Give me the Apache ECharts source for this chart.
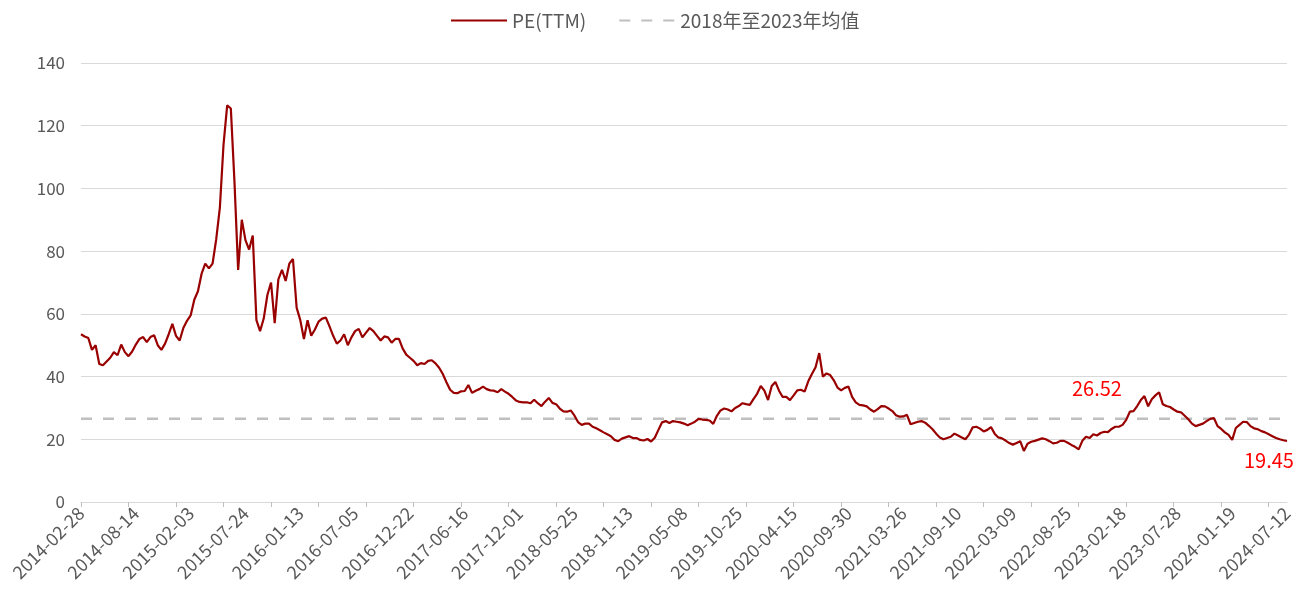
<!DOCTYPE html>
<html>
<head>
<meta charset="utf-8">
<script src="https://cdn.jsdelivr.net/npm/echarts@6/dist/echarts.min.js"></script>
<style>html,body{margin:0;padding:0;background:#fff}#c{width:1298px;height:591px}</style>
</head>
<body>
<div id="c"></div>
<script>
// x-axis tick labels (one every pointsPerLabel samples)
const tickLabels = ['2014-02-28','2014-08-14','2015-02-03','2015-07-24','2016-01-13','2016-07-05','2016-12-22','2017-06-16','2017-12-01','2018-05-25','2018-11-13','2019-05-08','2019-10-25','2020-04-15','2020-09-30','2021-03-26','2021-09-10','2022-03-09','2022-08-25','2023-02-18','2023-07-28','2024-01-19','2024-07-12'];
const pointsPerLabel = 15;
const seriesNames = ['PE(TTM)', '2018年至2023年均值'];
// PE(TTM) values
const peValues = [
53.5,52.8,52.3,48.5,50.0,44.0,43.6,44.8,46.0,47.8,
46.8,50.2,47.8,46.5,48.0,50.2,52.0,52.6,51.0,52.6,
53.2,50.0,48.5,50.5,53.5,56.8,53.0,51.5,55.5,57.8,
59.5,64.5,67.2,72.8,76.0,74.5,76.0,83.8,93.9,114.0,
126.5,125.5,102.0,74.0,90.0,83.5,80.5,85.0,58.0,54.5,
58.5,66.0,70.0,57.0,71.0,74.0,70.5,76.0,77.5,62.0,
58.0,52.0,58.0,53.0,55.0,57.5,58.5,58.8,56.0,53.0,
50.5,51.5,53.5,50.0,52.5,54.5,55.2,52.5,54.0,55.5,
54.5,53.0,51.5,52.8,52.5,50.8,52.0,52.0,49.0,47.0,
46.0,45.0,43.6,44.3,44.0,45.0,45.2,44.2,42.8,40.8,
38.2,35.8,34.8,34.7,35.3,35.4,37.3,34.8,35.5,36.0,
36.8,36.0,35.6,35.5,35.0,36.0,35.2,34.5,33.5,32.4,
31.9,31.8,31.8,31.5,32.6,31.5,30.6,32.0,33.2,31.6,
31.2,29.8,28.9,28.8,29.2,27.6,25.5,24.6,25.0,25.0,
24.0,23.5,22.9,22.2,21.6,21.0,19.8,19.4,20.2,20.6,
21.0,20.4,20.4,19.8,19.6,20.1,19.3,20.5,23.0,25.4,
25.8,25.2,25.8,25.6,25.4,25.0,24.5,25.0,25.6,26.5,
26.3,26.2,26.0,24.9,27.5,29.2,29.8,29.5,28.9,30.0,
30.6,31.5,31.2,31.0,32.8,34.5,37.0,35.5,32.5,37.0,
38.3,35.5,33.5,33.5,32.5,34.0,35.6,35.8,35.2,38.5,
40.8,43.0,47.5,40.0,41.0,40.5,38.8,36.5,35.6,36.4,
36.8,33.5,31.8,31.0,30.8,30.5,29.5,28.8,29.6,30.6,
30.5,29.8,29.0,27.7,27.2,27.3,27.8,24.8,25.2,25.6,
25.8,25.3,24.3,23.2,21.8,20.6,20.0,20.4,20.8,21.8,
21.2,20.6,20.0,21.5,23.8,24.0,23.4,22.5,23.0,23.9,
21.8,20.6,20.3,19.6,18.8,18.3,18.8,19.4,16.3,18.6,
19.2,19.5,19.9,20.3,20.0,19.4,18.7,18.9,19.5,19.5,
18.9,18.2,17.6,16.8,19.5,20.8,20.4,21.6,21.2,22.0,
22.4,22.3,23.3,24.0,24.0,24.6,26.2,28.8,29.0,30.6,
32.5,33.8,30.5,32.8,34.0,35.0,31.2,30.6,30.3,29.5,
28.8,28.6,27.5,26.4,25.0,24.2,24.6,25.0,25.8,26.5,
26.8,24.2,23.3,22.2,21.4,19.8,23.6,24.6,25.6,25.5,
24.2,23.5,23.2,22.6,22.2,21.6,21.0,20.4,20.0,19.7,
19.45
];
const meanValue = 26.52;
const lastValue = 19.45;
const yTicks = { min: 0, max: 140, interval: 20 };

const categories = peValues.map((v, i) => (i % pointsPerLabel === 0 ? tickLabels[i / pointsPerLabel] : ''));
const meanSeries = peValues.map(() => meanValue);

const FONT = "'Noto Sans CJK SC', 'Noto Sans', sans-serif";
const chart = echarts.init(document.getElementById('c'), null, { renderer: 'canvas' });
chart.setOption({
  animation: false,
  backgroundColor: '#ffffff',
  textStyle: { fontFamily: FONT },
  legend: {
    top: 6,
    left: 445,
    itemWidth: 56,
    itemHeight: 14,
    itemGap: 32,
    itemStyle: { opacity: 0 },
    textStyle: { color: '#595959', fontSize: 19, fontFamily: FONT },
    data: seriesNames
  },
  grid: { left: 81, right: 11, top: 63, bottom: 89, containLabel: false },
  xAxis: {
    type: 'category',
    data: categories,
    boundaryGap: false,
    axisLine: { show: true, lineStyle: { color: '#d9d9d9', width: 1 } },
    axisTick: { show: true, interval: 12, length: 5, lineStyle: { color: '#bfbfbf' } },
    axisLabel: { interval: pointsPerLabel - 1, rotate: 45, margin: 8, color: '#595959', fontSize: 18, fontFamily: FONT },
    splitLine: { show: false }
  },
  yAxis: {
    type: 'value',
    min: yTicks.min,
    max: yTicks.max,
    interval: yTicks.interval,
    axisLine: { show: false },
    axisTick: { show: false },
    axisLabel: { color: '#595959', fontSize: 17, margin: 16, fontFamily: FONT },
    splitLine: { lineStyle: { color: '#d9d9d9', width: 1 } }
  },
  series: [
    {
      name: seriesNames[0],
      type: 'line',
      data: peValues,
      symbol: 'none',
      lineStyle: { color: '#990000', width: 2.2 },
      itemStyle: { color: '#990000' },
      z: 3
    },
    {
      name: seriesNames[1],
      type: 'line',
      data: meanSeries,
      symbol: 'none',
      lineStyle: { color: '#bfbfbf', width: 2.5, type: [11, 11] },
      itemStyle: { color: '#bfbfbf' },
      z: 2
    }
  ],
  graphic: [
    { type: 'text', left: 1072, top: 378, style: { text: meanValue.toFixed(2), fill: '#ff0000', font: '20px ' + FONT } },
    { type: 'text', left: 1244, top: 450, style: { text: String(lastValue), fill: '#ff0000', font: '20px ' + FONT } }
  ]
});
</script>
</body>
</html>
